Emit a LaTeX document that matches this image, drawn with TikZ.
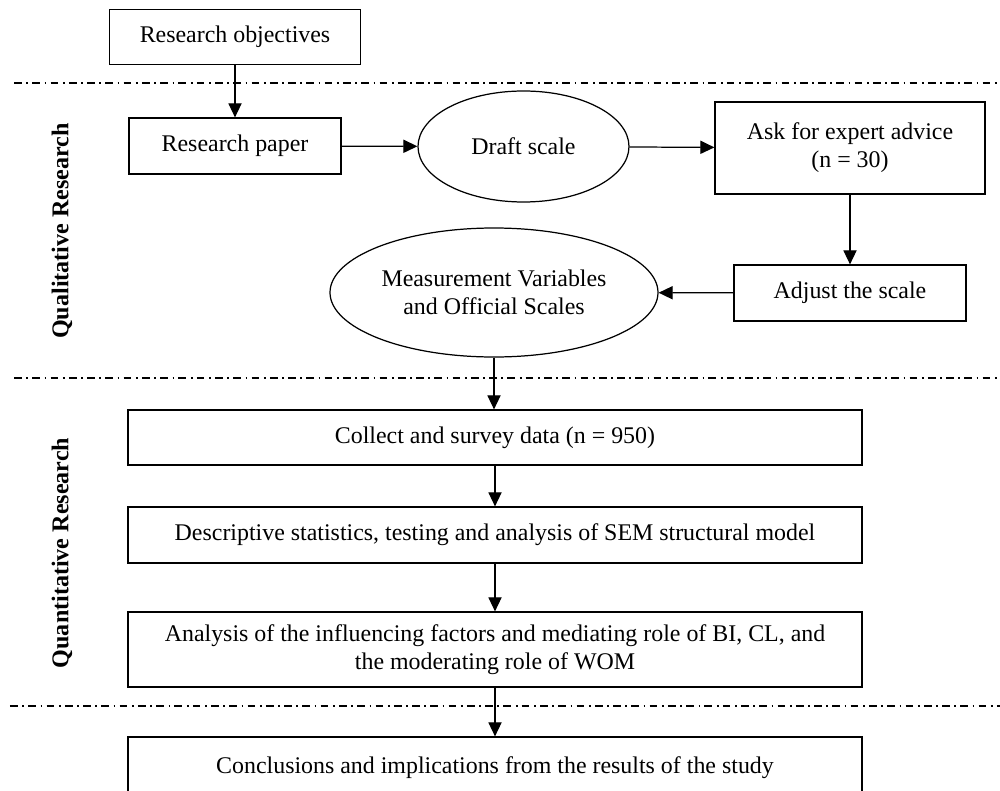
\documentclass[tikz,border=0pt]{standalone}
\usepackage{fontspec}
\setmainfont{Liberation Serif}
\usepackage{tikz}
\usetikzlibrary{shapes.geometric, arrows.meta, positioning}

\begin{document}
\begin{tikzpicture}[
    box/.style={rectangle, draw, line width=0.7pt, inner sep=0pt, align=center, font=\fontsize{13.6}{16}\selectfont},
    oval/.style={ellipse, draw, line width=0.7pt, inner sep=0pt, align=center, font=\fontsize{13.6}{16}\selectfont},
    arrow/.style={-{Triangle[length=8pt, width=7.5pt]}, line width=0.7pt},
    separator/.style={line width=0.7pt, dash pattern=on 4.4pt off 2.6pt on 1pt off 2.4pt},
    phase/.style={rotate=90, font=\fontsize{13.7}{16}\selectfont\bfseries}
]
    \useasboundingbox (0, 0) rectangle (20, -15.82);

    % Qualitative part
    \node[box, minimum width=5.02cm, minimum height=1.1cm] (objectives) at (4.70, -0.74) {Research objectives};
    \node[box, minimum width=4.24cm, minimum height=1.12cm] (paper) at (4.70, -2.92) {Research paper};
    \node[oval, minimum width=4.22cm, minimum height=2.22cm] (draft) at (10.47, -2.93) {Draft scale};
    \node[box, minimum width=5.4cm, minimum height=1.84cm] (expert) at (17.00, -2.96) {Ask for expert advice\\(n = 30)};
    \node[box, minimum width=4.64cm, minimum height=1.12cm] (adjust) at (17.00, -5.86) {Adjust the scale};
    \node[oval, minimum width=6.56cm, minimum height=2.58cm] (measure) at (9.88, -5.85) {Measurement Variables\\and Official Scales};

    % Quantitative part
    \node[box, minimum width=14.68cm, minimum height=1.1cm] (collect) at (9.90, -8.75) {Collect and survey data (n = 950)};
    \node[box, minimum width=14.68cm, minimum height=1.12cm] (descriptive) at (9.90, -10.70) {Descriptive statistics, testing and analysis of SEM structural model};
    \node[box, minimum width=14.68cm, minimum height=1.5cm] (analysis) at (9.90, -12.99) {Analysis of the influencing factors and mediating role of BI, CL, and\\the moderating role of WOM};
    \node[box, minimum width=14.68cm, minimum height=1.24cm] (conclusions) at (9.90, -15.36) {Conclusions and implications from the results of the study};

    % Phase labels
    \node[phase] (qualitative) at (1.24, -4.62) {Qualitative Research};
    \node[phase] (quantitative) at (1.24, -11.06) {Quantitative Research};

    % Separators
    \draw[separator] (0.28, -1.66) -- (20, -1.66);
    \draw[separator] (0.28, -7.56) -- (20, -7.56);
    \draw[separator] (0.20, -14.12) -- (20, -14.12);

    % Arrows
    \draw[arrow] (objectives) -- (paper);
    \draw[arrow] (paper) -- (draft);
    \draw[arrow] (draft) -- (expert);
    \draw[arrow] (expert) -- (adjust);
    \draw[arrow] (adjust) -- (measure);
    \draw[arrow] (measure.south) -- (collect.north -| measure.south);
    \draw[arrow] (collect) -- (descriptive);
    \draw[arrow] (descriptive) -- (analysis);
    \draw[arrow] (analysis) -- (conclusions);

\end{tikzpicture}
\end{document}
